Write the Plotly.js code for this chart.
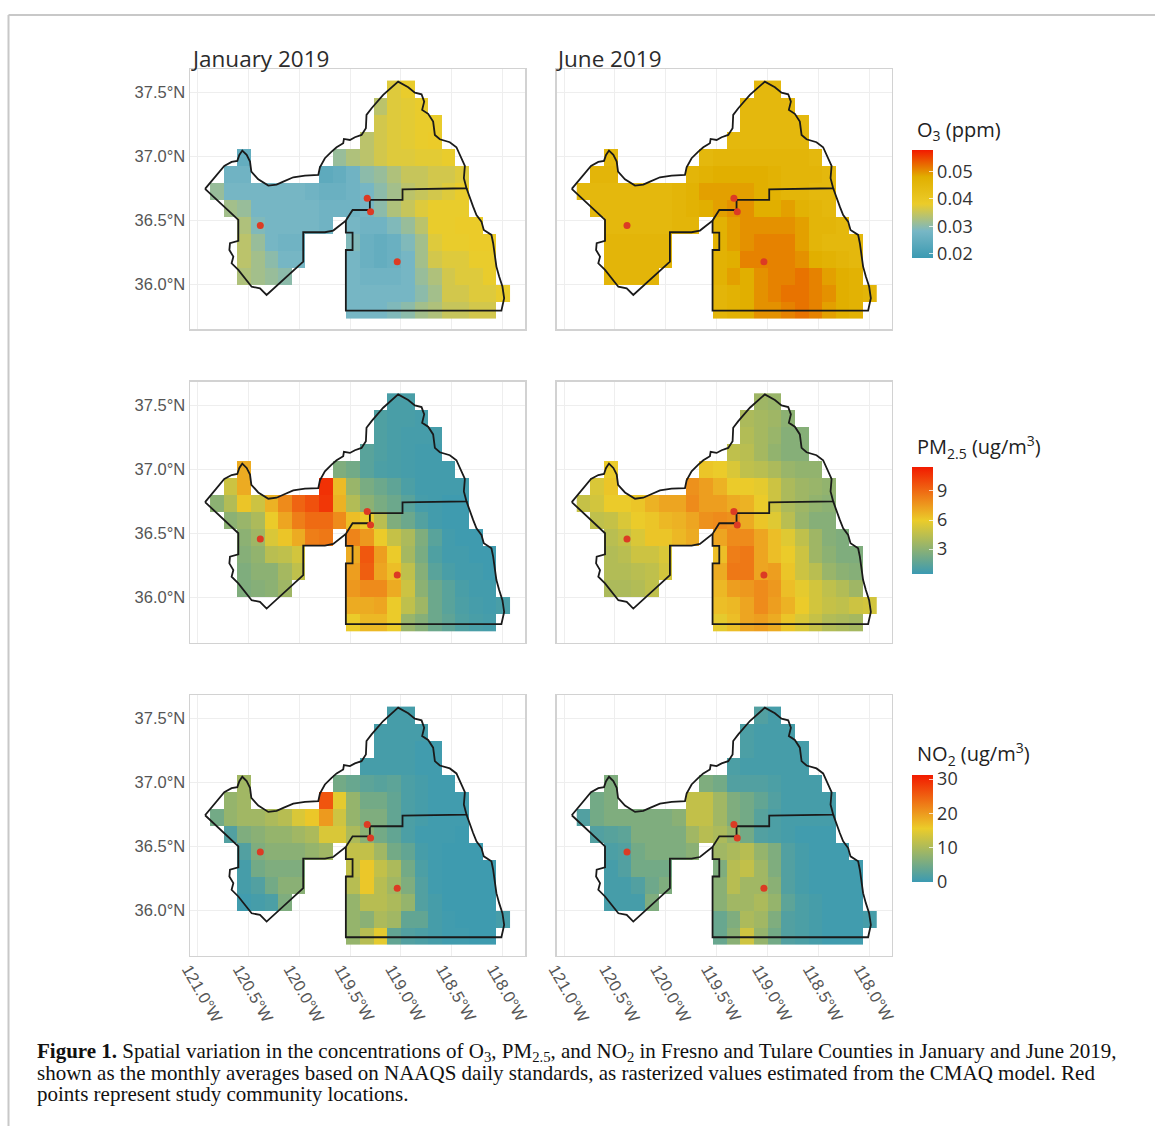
<!DOCTYPE html>
<html>
<head>
<meta charset="utf-8">
<script src="https://cdn.plot.ly/plotly-3.0.1.min.js"></script>
<style>html,body{margin:0;padding:0;background:#fff}#chart{width:1155px;height:1126px}</style>
</head>
<body>
<div id="chart"></div>
<script>
const cellLon = [-120.809,-120.675,-120.541,-120.408,-120.274,-120.140,-120.006,-119.872,-119.738,-119.605,-119.471,-119.337,-119.203,-119.069,-118.936,-118.802,-118.668,-118.534,-118.400,-118.266,-118.133,-117.999];
const cellLat = [37.525,37.392,37.259,37.127,36.994,36.861,36.728,36.595,36.463,36.330,36.197,36.064,35.931,35.799];
// columns holding a raster cell, per row
const rowSpans = [[[13,14]],[[12,15]],[[12,16]],[[11,16]],[[2,2],[9,17]],[[1,2],[8,18]],[[0,18]],[[1,18]],[[2,8],[10,19]],[[2,6],[10,20]],[[2,6],[10,20]],[[2,5],[10,20]],[[10,21]],[[10,20]]];

const o3Jan = [
[.037,.038],
[.034,.037,.0375,.038],
[.036,.037,.0375,.038,.038],
[.034,.036,.037,.0375,.038,.0385],
[.025,.031,.033,.034,.036,.037,.037,.0375,.0375,.038],
[.027,.027,.024,.025,.027,.030,.031,.033,.035,.035,.036,.036,.037],
[.031,.028,.028,.028,.028,.028,.028,.027,.026,.026,.027,.028,.030,.032,.034,.035,.036,.037,.038],
[.032,.031,.028,.028,.028,.028,.028,.027,.027,.027,.028,.030,.033,.035,.037,.038,.038,.038],
[.033,.029,.028,.028,.028,.028,.027,.028,.027,.027,.029,.031,.034,.038,.038,.0385,.0385],
[.034,.031,.028,.027,.027,.029,.026,.025,.026,.029,.032,.037,.038,.038,.0385,.0385],
[.034,.032,.030,.028,.028,.028,.026,.025,.026,.028,.032,.036,.037,.037,.038,.038],
[.033,.032,.031,.030,.028,.027,.027,.027,.028,.031,.033,.036,.037,.037,.038],
[.028,.028,.028,.028,.028,.030,.032,.036,.036,.037,.037,.038],
[.028,.028,.028,.029,.030,.032,.033,.035,.035,.036,.036]];
const o3Jun = [
[.045,.045],
[.045,.045,.045,.045],
[.045,.045,.045,.045,.045],
[.045,.045,.045,.045,.045,.045],
[.045,.045,.046,.046,.046,.046,.046,.046,.046,.045],
[.046,.046,.046,.047,.048,.048,.048,.048,.047,.046,.046,.046,.045],
[.045,.045,.045,.045,.045,.045,.045,.046,.047,.049,.049,.049,.049,.048,.047,.046,.046,.045,.045],
[.045,.045,.045,.045,.045,.045,.046,.047,.048,.049,.050,.050,.048,.048,.049,.047,.046,.045],
[.045,.045,.045,.045,.045,.046,.046,.047,.049,.050,.050,.050,.050,.049,.046,.046,.045],
[.046,.046,.046,.046,.046,.047,.049,.050,.051,.051,.051,.049,.046,.045,.045,.045],
[.046,.046,.046,.046,.046,.047,.048,.051,.051,.051,.051,.050,.048,.047,.046,.045],
[.046,.046,.046,.046,.047,.049,.048,.050,.051,.051,.052,.051,.049,.048,.047],
[.046,.047,.048,.050,.051,.052,.052,.051,.050,.048,.047,.046],
[.046,.047,.048,.050,.050,.051,.052,.051,.049,.048,.047]];
const pmJan = [
[.9,.9],
[1.1,.9,.9,.8],
[1.1,.9,.8,.8,.8],
[1.4,1.1,.9,.8,.7,.7],
[7.0,2.6,2.2,1.4,1.0,.9,.8,.7,.7,.7],
[5.0,7.0,10.8,6.5,3.4,2.4,2.0,1.6,1.0,.7,.7,.7,.7],
[3.0,4.2,6.2,5.0,6.8,8.0,9.2,9.8,10.6,6.8,4.2,3.0,2.4,2.0,1.4,.8,.7,.6,.6],
[3.0,3.4,4.0,6.0,7.2,8.4,9.0,9.0,8.0,6.4,6.0,4.4,2.6,2.0,1.2,.7,.6,.6],
[3.0,3.6,5.4,6.2,7.0,8.4,8.6,8.2,7.6,6.0,4.8,4.0,2.6,1.4,.7,.6,.6],
[2.8,3.2,4.4,4.6,5.2,7.0,9.6,7.4,6.0,3.8,2.4,1.1,.7,.7,.6,.6],
[2.6,3.0,3.0,3.8,4.6,7.4,9.4,7.2,6.4,4.6,2.8,1.4,.9,.7,.7,.6],
[2.6,2.8,3.0,3.6,7.6,8.0,8.0,7.0,5.0,3.0,2.0,1.4,.9,.7,.7],
[7.0,7.0,7.2,6.0,4.6,3.6,2.0,1.4,1.0,.8,.7,.9],
[6.0,6.6,6.6,6.0,3.4,2.8,2.0,1.6,1.1,.9,.8]];
const pmJun = [
[3.6,3.4],
[4.0,3.8,3.6,3.0],
[4.2,3.8,3.4,2.8,2.8],
[4.6,4.4,3.8,3.2,2.8,2.8],
[6.0,6.2,6.0,5.4,4.6,4.4,4.0,3.4,3.2,3.2],
[5.4,6.2,7.8,7.4,6.8,6.0,6.0,5.8,5.0,4.0,3.6,3.4,3.2],
[4.8,5.2,6.0,6.0,6.2,6.8,7.2,7.2,8.0,7.4,7.4,7.0,6.8,6.0,5.0,4.0,3.6,3.2,3.0],
[4.6,4.8,5.4,6.0,6.2,6.6,6.8,7.2,7.8,8.0,7.8,7.0,6.2,5.6,4.4,3.4,2.8,2.8],
[4.4,4.8,5.4,6.2,6.2,6.6,7.0,7.2,8.0,8.0,7.2,6.4,5.6,4.6,3.6,2.8,2.6],
[4.2,4.4,5.0,5.0,5.4,6.4,8.4,8.6,7.2,6.4,6.0,5.0,3.6,3.0,2.6,2.6],
[4.2,4.2,4.4,4.6,5.2,7.0,8.6,8.6,7.2,7.4,6.2,5.0,4.4,3.4,3.0,2.8],
[4.0,4.0,4.2,4.6,6.6,7.4,7.6,8.0,7.6,6.4,5.8,5.2,4.6,4.2,3.6],
[6.4,6.6,7.2,8.0,7.4,6.8,6.0,5.2,4.8,4.6,5.0,5.2],
[5.8,6.4,7.2,7.4,7.0,6.2,5.4,4.8,4.2,4.0,3.8]];
const no2Jan = [
[1,1],
[1,1,1,1],
[1,1,1,.5,.5],
[1,1,1,1,.5,.5],
[9,5,4,3,2.5,3,1.5,1,.5,.5],
[8,9,26,15,8,5,5,3.5,1.5,1,.5,.5,.5],
[5,8,9,9,10,11,14,16,20,13,8,6,6,3.5,1.5,1,.5,.5,.5],
[2,6,7,8,8,9,10,14,14,10,7,5,3.5,1.5,.5,.5,.5,.3],
[2,6,7,7,7,8,9,12,12,9,5,3.5,1,.5,.3,.3,.3],
[1,5,6,6,6,12,16,12,10,5,1.5,.5,.3,.3,.3,.3],
[1,2,5,7,7,11,16,11,9,6,2,.5,.3,.3,.3,.3],
[.5,1,1.5,6,8,11,11,10,8,2,1,.3,.3,.3,.3],
[8,7,10,9,3.5,3.5,1,.5,.3,.3,.3,1],
[8,11,15,3.5,2,1.5,1,.5,.5,.3,.3]];
const no2Jun = [
[2,1],
[1.5,1,1,1],
[1.5,1,1,1,1],
[1.5,1,1,1,1,1],
[6,6,5,2,2,2,1.5,1,1,1],
[5,6,12,12,9,6,5,3.5,2,1,1,1,1],
[2,5,6,6,6,6,6,7,12,12,9,6,5,2.5,1.5,1,1,1,1],
[2,2.5,3,6,6,6,6,9,11,10,8,5,2,1.5,1,.5,.5,.5],
[1.5,2,5,6,6,6,7,9,10,11,8,6,2,1,.5,.5,.5],
[1,2,5,5,5,6,11,12,9,6,2,1,.5,.5,.5,.5],
[1,1,2,4.5,6,7,11,9,9,7,2,1,.5,.5,.5,.5],
[1,1,1,6,7,9,9,10,8,3,1.5,1,.5,.5,.5],
[4,6,10,9,6,2,1.5,1,.5,.5,.5,1],
[4,7,13,8,5,2,1.5,1,.5,.5,.5]];

const fresnoLon = [-120.925,-120.736,-120.664,-120.608,-120.588,-120.559,-120.516,-120.483,-120.470,-120.402,-120.303,-120.222,-120.156,-120.058,-119.943,-119.812,-119.796,-119.747,-119.681,-119.632,-119.567,-119.560,-119.501,-119.452,-119.387,-119.344,-119.338,-119.288,-119.174,-119.027,-118.928,-118.863,-118.797,-118.771,-118.791,-118.732,-118.683,-118.666,-118.617,-118.519,-118.454,-118.404,-118.371,-118.381,-118.355,-118.984,-118.984,-119.305,-119.305,-119.475,-119.541,-119.665,-119.747,-119.960,-119.960,-120.320,-120.385,-120.467,-120.598,-120.664,-120.647,-120.686,-120.680,-120.598,-120.598,-120.925];
const fresnoLat = [36.744,36.924,36.955,36.963,37.010,37.044,37.010,36.958,36.879,36.819,36.770,36.778,36.801,36.835,36.848,36.853,36.913,36.984,37.036,37.070,37.101,37.135,37.127,37.148,37.166,37.218,37.323,37.375,37.479,37.583,37.539,37.497,37.484,37.427,37.362,37.331,37.271,37.166,37.132,37.109,37.070,36.984,36.924,36.827,36.749,36.741,36.658,36.658,36.579,36.579,36.496,36.418,36.405,36.405,36.175,35.914,35.966,35.979,36.110,36.162,36.214,36.266,36.319,36.337,36.501,36.744];
const tulareLon = [-118.355,-118.329,-118.290,-118.257,-118.208,-118.185,-118.110,-118.093,-118.077,-118.061,-118.034,-118.002,-117.985,-118.012,-119.541,-119.541,-119.475,-119.475,-119.541,-119.541];
const tulareLat = [36.749,36.684,36.605,36.540,36.488,36.423,36.384,36.319,36.214,36.136,36.058,35.980,35.888,35.792,35.792,36.266,36.266,36.402,36.402,36.496];
const siteLon = [-120.382,-119.331,-119.298,-119.036];
const siteLat = [36.457,36.671,36.566,36.175];

const lonTicks = [-121,-120.5,-120,-119.5,-119,-118.5,-118];
const lonLabels = ['121.0°W','120.5°W','120.0°W','119.5°W','119.0°W','118.5°W','118.0°W'];
const latTicks = [36,36.5,37,37.5];
const latLabels = ['36.0°N','36.5°N','37.0°N','37.5°N'];
const columnTitles = ['January 2019','June 2019'];
const captionLines = [
 '<b>Figure 1.</b> Spatial variation in the concentrations of O<sub>3</sub>, PM<sub>2.5</sub>, and NO<sub>2</sub> in Fresno and Tulare Counties in January and June 2019,',
 'shown as the monthly averages based on NAAQS daily standards, as rasterized values estimated from the CMAQ model. Red',
 'points represent study community locations.'];

const W = 1155, H = 1126;
const zissou5 = [[0,'#3B9AB2'],[.25,'#78B7C5'],[.5,'#EBCC2A'],[.75,'#E1AF00'],[1,'#F21A00']];
const zissou3 = [[0,'#3B9AB2'],[.5,'#EBCC2A'],[1,'#F21A00']];
const rowsPx = [[69,329],[381.7,642.7],[695,955.7]];
const colsPx = [[190,525],[556.7,891.7]];
const sans = 'Liberation Sans, Arial, sans-serif';
const title = 'Open Sans, sans-serif';

function grid(vals){
  return rowSpans.map((spans,r)=>{
    const row = cellLon.map(()=>null); let k=0;
    spans.forEach(s=>{ for(let c=s[0];c<=s[1];c++) row[c]=vals[r][k++]; });
    return row;
  });
}
const groups = [
 {data:[o3Jan,o3Jun], cs:zissou5, zmin:.0184, zmax:.0579, tv:[.02,.03,.04,.05], tt:['0.02','0.03','0.04','0.05'], name:'O<sub>3</sub> (ppm)', top:150, bot:257.7, ty:130},
 {data:[pmJan,pmJun], cs:zissou3, zmin:.46, zmax:11.5, tv:[3,6,9], tt:['3','6','9'], name:'PM<sub>2.5</sub> (ug/m<sup>3</sup>)', top:466.7, bot:574, ty:447},
 {data:[no2Jan,no2Jun], cs:zissou3, zmin:0, zmax:31.2, tv:[0,10,20,30], tt:['0','10','20','30'], name:'NO<sub>2</sub> (ug/m<sup>3</sup>)', top:775, bot:882.3, ty:754}
];
const traces = [], layout = {
  width:W, height:H, margin:{l:0,r:0,t:0,b:0}, paper_bgcolor:'#fff', plot_bgcolor:'#fff', showlegend:false,
  font:{family:sans,color:'#444'},
  annotations:[], shapes:[
    {type:'line',xref:'paper',yref:'paper',x0:8.5/W,x1:8.5/W,y0:0,y1:1-15/H,line:{color:'#c8c8c8',width:2}},
    {type:'line',xref:'paper',yref:'paper',x0:8.5/W,x1:1,y0:1-15/H,y1:1-15/H,line:{color:'#c8c8c8',width:2}}
  ]
};
let n=0;
groups.forEach((g,r)=>{
  layout.annotations.push({xref:'paper',yref:'paper',x:915/W,y:1-g.ty/H,xanchor:'left',yanchor:'middle',showarrow:false,text:g.name,font:{family:title,size:20,color:'#222'}});
  g.data.forEach((vals,c)=>{
    n++;
    const sx = n===1?'':n, xa='x'+sx, ya='y'+sx;
    const tr = {type:'heatmap', x:cellLon, y:cellLat, z:grid(vals), xaxis:xa, yaxis:ya,
      colorscale:g.cs, zmin:g.zmin, zmax:g.zmax, showscale:c===0, hoverongaps:false, xgap:0, ygap:0};
    if(c===0) tr.colorbar = {xref:'paper',yref:'paper',x:911.7/W,xanchor:'left',y:1-g.top/H,yanchor:'top',
      lenmode:'pixels',len:g.bot-g.top,thicknessmode:'pixels',thickness:21,xpad:0,ypad:0,
      outlinewidth:0,borderwidth:0,ticks:'inside',ticklen:4,tickcolor:'rgba(255,255,255,.75)',tickwidth:1,
      tickvals:g.tv,ticktext:g.tt,tickfont:{family:title,size:18,color:'#333'}};
    traces.push(tr);
    traces.push({type:'scatter',mode:'lines',x:fresnoLon,y:fresnoLat,xaxis:xa,yaxis:ya,line:{color:'#1a1a1a',width:1.8},hoverinfo:'skip'});
    traces.push({type:'scatter',mode:'lines',x:tulareLon,y:tulareLat,xaxis:xa,yaxis:ya,line:{color:'#1a1a1a',width:1.8},hoverinfo:'skip'});
    traces.push({type:'scatter',mode:'markers',x:siteLon,y:siteLat,xaxis:xa,yaxis:ya,marker:{color:'#dc3b24',size:7},hoverinfo:'skip'});
    const px=colsPx[c], py=rowsPx[r];
    layout[(n===1?'xaxis':'xaxis'+n)] = {domain:[px[0]/W,px[1]/W],range:[-121.073,-117.78],anchor:ya,
      tickmode:'array',tickvals:lonTicks,ticktext:lonLabels,showticklabels:r===2,tickangle:60,
      ticklabelshift:-9,ticklabelstandoff:-4,ticks:'',showgrid:true,gridcolor:'#eeeeee',gridwidth:1,zeroline:false,
      showline:true,mirror:true,linecolor:'#d2d2d2',linewidth:1.5,tickfont:{family:sans,size:16.5,color:'#555'},fixedrange:true,automargin:false};
    layout[(n===1?'yaxis':'yaxis'+n)] = {domain:[1-py[1]/H,1-py[0]/H],range:[35.648,37.682],anchor:xa,
      tickmode:'array',tickvals:latTicks,ticktext:latLabels,showticklabels:c===0,
      ticks:'',showgrid:true,gridcolor:'#eeeeee',gridwidth:1,zeroline:false,
      showline:true,mirror:true,linecolor:'#d2d2d2',linewidth:1.5,tickfont:{family:sans,size:16.5,color:'#555'},fixedrange:true,automargin:false};
  });
});
columnTitles.forEach((t,c)=>layout.annotations.push({xref:'paper',yref:'paper',x:(c===0?189:554)/W,y:1-59/H,xanchor:'left',yanchor:'middle',showarrow:false,text:t,font:{family:title,size:22.5,color:'#2b2b2b'}}));
captionLines.forEach((t,i)=>layout.annotations.push({xref:'paper',yref:'paper',x:35/W,y:1-(1052+21*i)/H,xanchor:'left',yanchor:'middle',showarrow:false,align:'left',text:t,font:{family:'Liberation Serif, serif',size:21,color:'#111'}}));
Plotly.newPlot('chart',traces,layout,{staticPlot:true,displayModeBar:false});
</script>
</body>
</html>
